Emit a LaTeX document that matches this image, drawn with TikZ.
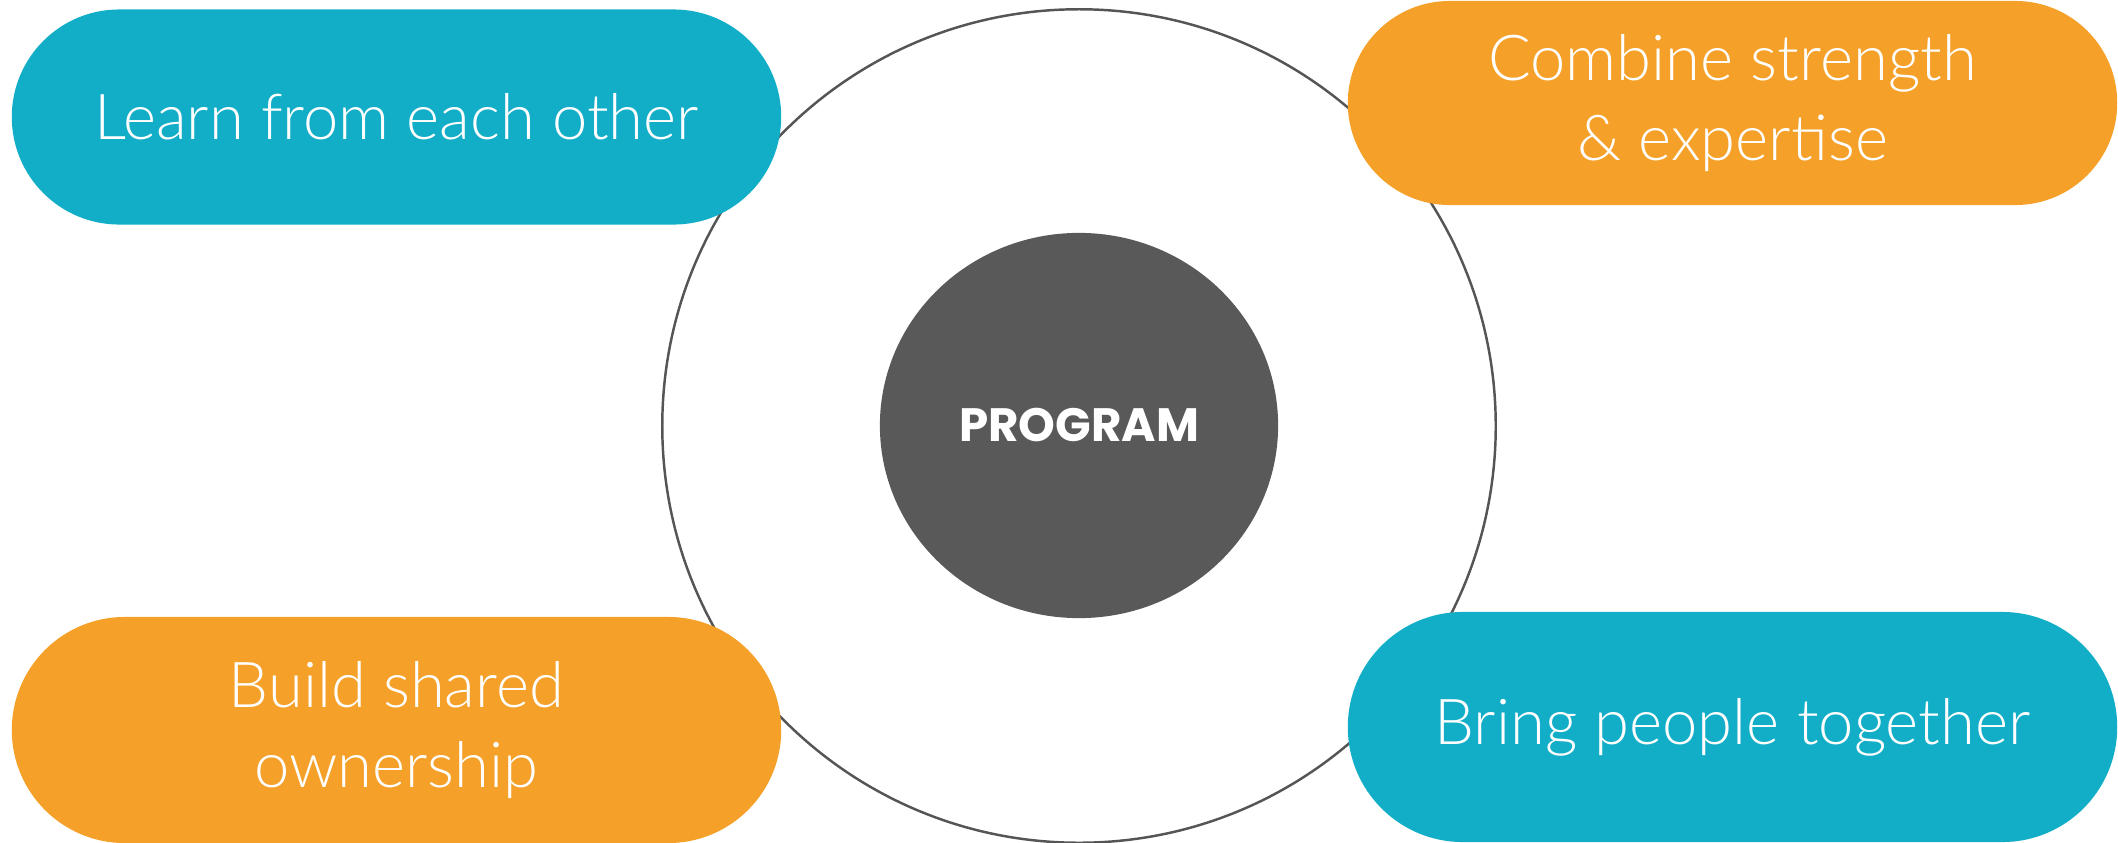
\documentclass[tikz,border=0pt]{standalone}
\usepackage{fontspec}
\setmainfont{Lato Light}
\newfontfamily\progfont{Poppins}
\usetikzlibrary{shapes.misc,shapes.geometric}

\definecolor{pillteal}{RGB}{18,174,200}
\definecolor{pillorange}{RGB}{245,160,40}
\definecolor{hubgray}{RGB}{89,89,89}
\definecolor{ringgray}{RGB}{85,85,85}

\begin{document}
\begin{tikzpicture}[x=0.01cm, y=-0.01cm]
		\tikzset{
			every node/.style={
				align=center,
				text=white,
				inner sep=0pt
			},
			ring/.style={
				circle,
				draw=ringgray,
				line width=0.7pt,
				minimum size=8.33cm
			},
			hub/.style={
				ellipse,
				fill=hubgray,
				minimum width=3.98cm,
				minimum height=3.85cm,
				font=\progfont\bfseries\fontsize{13.3}{16}\selectfont
			},
			pill/.style={
				rounded rectangle,
				minimum width=7.69cm,
				font=\fontsize{18}{22.5}\selectfont
			},
			tealpill/.style={
				pill,
				fill=pillteal
			},
			orangepill/.style={
				pill,
				fill=pillorange
			}
		}

		\useasboundingbox (0,0) rectangle (2118,842);

		\node[ring] (ring) at (1079,426)
			{};
		\node[hub] (hub) at (1079,425.5)
			{PROGRAM};

		\node[tealpill, minimum height=2.15cm] (learn) at (396.5,117)
			{Learn from each other};
		\node[orangepill, minimum height=2.04cm] (combine) at (1732.5,103)
			{Combine strength\\ \& expertise};
		\node[orangepill, minimum height=2.26cm] (build) at (396.5,730)
			{Build shared\\ ownership};
		\node[tealpill, minimum height=2.30cm] (bring) at (1732.5,727)
			{Bring people together};

	\end{tikzpicture}
\end{document}
